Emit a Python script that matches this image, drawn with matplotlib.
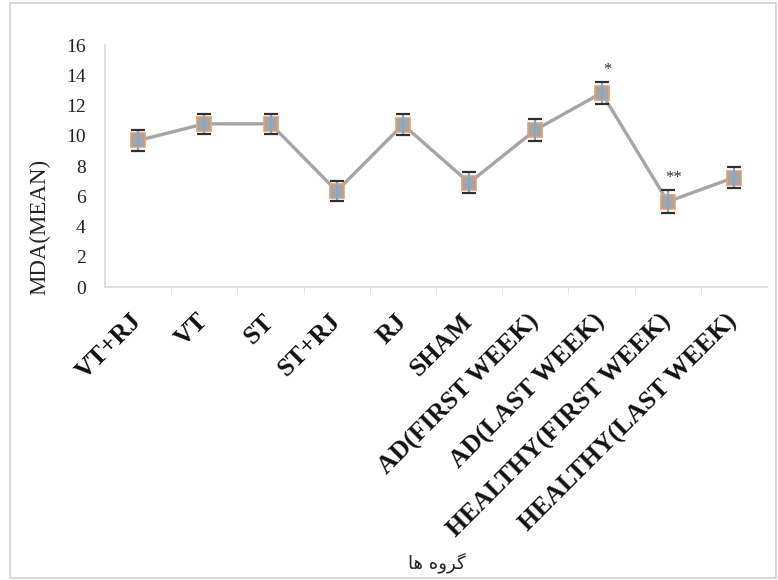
import matplotlib.pyplot as plt
import numpy as np
from matplotlib.patches import Rectangle

# MDA mean per group with error bar half-widths
groups = ["VT+RJ", "VT", "ST", "ST+RJ", "RJ", "SHAM",
          "AD(FIRST WEEK)", "AD(LAST WEEK)",
          "HEALTHY(FIRST WEEK)", "HEALTHY(LAST WEEK)"]
mda_mean = [9.7, 10.8, 10.8, 6.35, 10.75, 6.9, 10.4, 12.85, 5.65, 7.25]
mda_err = [0.72, 0.65, 0.65, 0.65, 0.7, 0.7, 0.75, 0.73, 0.75, 0.7]
stars = {7: "*", 8: "**"}
yticks = [0, 2, 4, 6, 8, 10, 12, 14, 16]

# "گروه ها" in shaped presentation forms, visual order
xlabel_fa = "\uFE8E\uFEEB \uFEE9\uFEED\uFEAE\uFB94"

SERIF = ["Liberation Serif", "DejaVu Serif"]
GRAY = "#A5A5A5"

fig = plt.figure(figsize=(7.78, 5.8), dpi=100)
fig.patches.append(Rectangle((0.013, 0.004), 0.984, 0.99, transform=fig.transFigure,
                             fill=False, edgecolor="#d0d0d0", linewidth=1.2))
ax = fig.add_axes([0.135, 0.505, 0.851, 0.417])

x = np.arange(len(groups))
ax.plot(x, mda_mean, color=GRAY, linewidth=2.4, zorder=2)
ax.plot(x, mda_mean, linestyle="none", marker="s", markersize=9.5,
        markerfacecolor=GRAY, markeredgecolor="#E8A070", markeredgewidth=1.2, zorder=3)
# blue stems through the markers, dark caps at the ends
ax.errorbar(x, mda_mean, yerr=mda_err, fmt="none", ecolor="#7FA8D0",
            elinewidth=1.6, capsize=0, zorder=4)
ax.errorbar(x, mda_mean, yerr=mda_err, fmt="none", ecolor="#303030",
            elinewidth=0, capsize=5, capthick=1.6, zorder=5)

for i, s in stars.items():
    ax.annotate(s, (x[i], mda_mean[i] + mda_err[i]), xytext=(4, 3),
                textcoords="offset points", ha="center", va="bottom",
                fontsize=12, family=SERIF, color="#303030")

ax.set_xlim(-0.5, len(groups) - 0.5)
ax.set_ylim(0, 16)
ax.set_yticks(yticks)
ax.set_yticklabels([str(v) for v in yticks], family=SERIF, fontsize=14, color="#222")
ax.tick_params(axis="y", length=0, pad=14)

ax.set_xticks(x)
ax.set_xticklabels(groups, family=SERIF, fontsize=18.5, fontweight="bold",
                   rotation=45, ha="right", va="center", rotation_mode="anchor",
                   color="#111")
ax.tick_params(axis="x", which="major", length=0, pad=22)
ax.set_xticks(x[:-1] + 0.5, minor=True)
ax.tick_params(axis="x", which="minor", length=5, color="#e0e0e0")

for side in ["top", "right"]:
    ax.spines[side].set_visible(False)
for side in ["left", "bottom"]:
    ax.spines[side].set_color("#d9d9d9")
    ax.spines[side].set_linewidth(1.2)

ax.set_ylabel("MDA(MEAN)", family=SERIF, fontsize=16.5, color="#222")
ax.yaxis.set_label_coords(-0.083, 0.25)

fig.text(0.562, 0.03, xlabel_fa, family=["DejaVu Sans"], fontsize=13,
         ha="center", va="center", color="#222")

fig.savefig("out.png", dpi=100)
